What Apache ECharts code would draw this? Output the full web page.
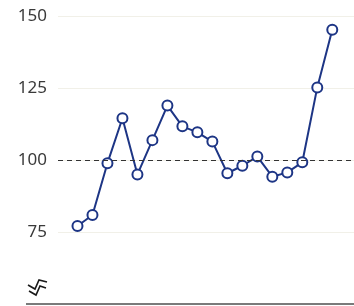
<!DOCTYPE html>
<html>
<head>
<meta charset="utf-8">
<script src="https://cdn.jsdelivr.net/npm/echarts@6/dist/echarts.min.js"></script>
<style>
    html, body { margin: 0; padding: 0; background: #fff; }
    #container { width: 354px; height: 306px; }
</style>
</head>
<body>
<div id="container"></div>
<script>
// point positions along x (index) and measured values
let xIndex = [0, 1, 2, 3, 4, 5, 6, 7, 8, 9, 10, 11, 12, 13, 14, 15, 16, 17]
let values = [77.1, 80.9, 98.9, 114.5, 95.0, 106.9, 118.9, 111.7, 109.6, 106.4, 95.4, 98.0, 101.2, 94.2, 95.7, 99.2, 125.2, 145.2]
let yTicks = [50, 75, 100, 125, 150]
let refValue = 100

let mychart = echarts.init(document.getElementById('container'))

let options = {
    animation: false,
    grid: {
        left: 58,
        right: 0,
        top: 16,
        bottom: 2
    },
    xAxis: {
        type: 'value',
        min: -1.3,
        max: 18.45,
        axisLine: { show: false },
        axisTick: { show: false },
        axisLabel: { show: false },
        splitLine: { show: false }
    },
    yAxis: {
        type: 'value',
        min: yTicks[0],
        max: yTicks[yTicks.length - 1],
        interval: 25,
        axisLine: { show: false },
        axisTick: { show: false },
        axisLabel: {
            margin: 11,
            fontSize: 17,
            color: '#3a3a3a',
            fontFamily: 'Noto Sans',
            formatter: v => (v === yTicks[0] ? '' : String(v))
        },
        splitLine: {
            lineStyle: { color: '#f1f0e8', width: 1 }
        }
    },
    graphic: {
        elements: [
            {
                type: 'line',
                z: 100,
                shape: { x1: 26, y1: 304, x2: 354, y2: 304 },
                style: { stroke: '#7a7a7a', lineWidth: 2 }
            },
            // axis break mark
            {
                type: 'polyline',
                z: 100,
                shape: { points: [[28, 285], [35, 289], [39, 280], [47, 282]] },
                style: { stroke: '#1a1a1a', lineWidth: 1.6, fill: null }
            },
            {
                type: 'polyline',
                z: 100,
                shape: { points: [[29, 291], [36, 295], [40, 286], [46, 288]] },
                style: { stroke: '#1a1a1a', lineWidth: 1.6, fill: null }
            }
        ]
    },
    series: [
        {
            type: 'line',
            data: xIndex.map((x, i) => [x, values[i]]),
            symbol: 'circle',
            symbolSize: 10,
            lineStyle: { color: '#1d3585', width: 2 },
            itemStyle: { color: '#fff', borderColor: '#1d3585', borderWidth: 2 },
            z: 3,
            markLine: {
                silent: true,
                symbol: 'none',
                label: { show: false },
                lineStyle: { color: '#333', type: [5, 4], width: 1 },
                data: [{ yAxis: refValue }]
            }
        }
    ]
}

mychart.setOption(options)
</script>
</body>
</html>
